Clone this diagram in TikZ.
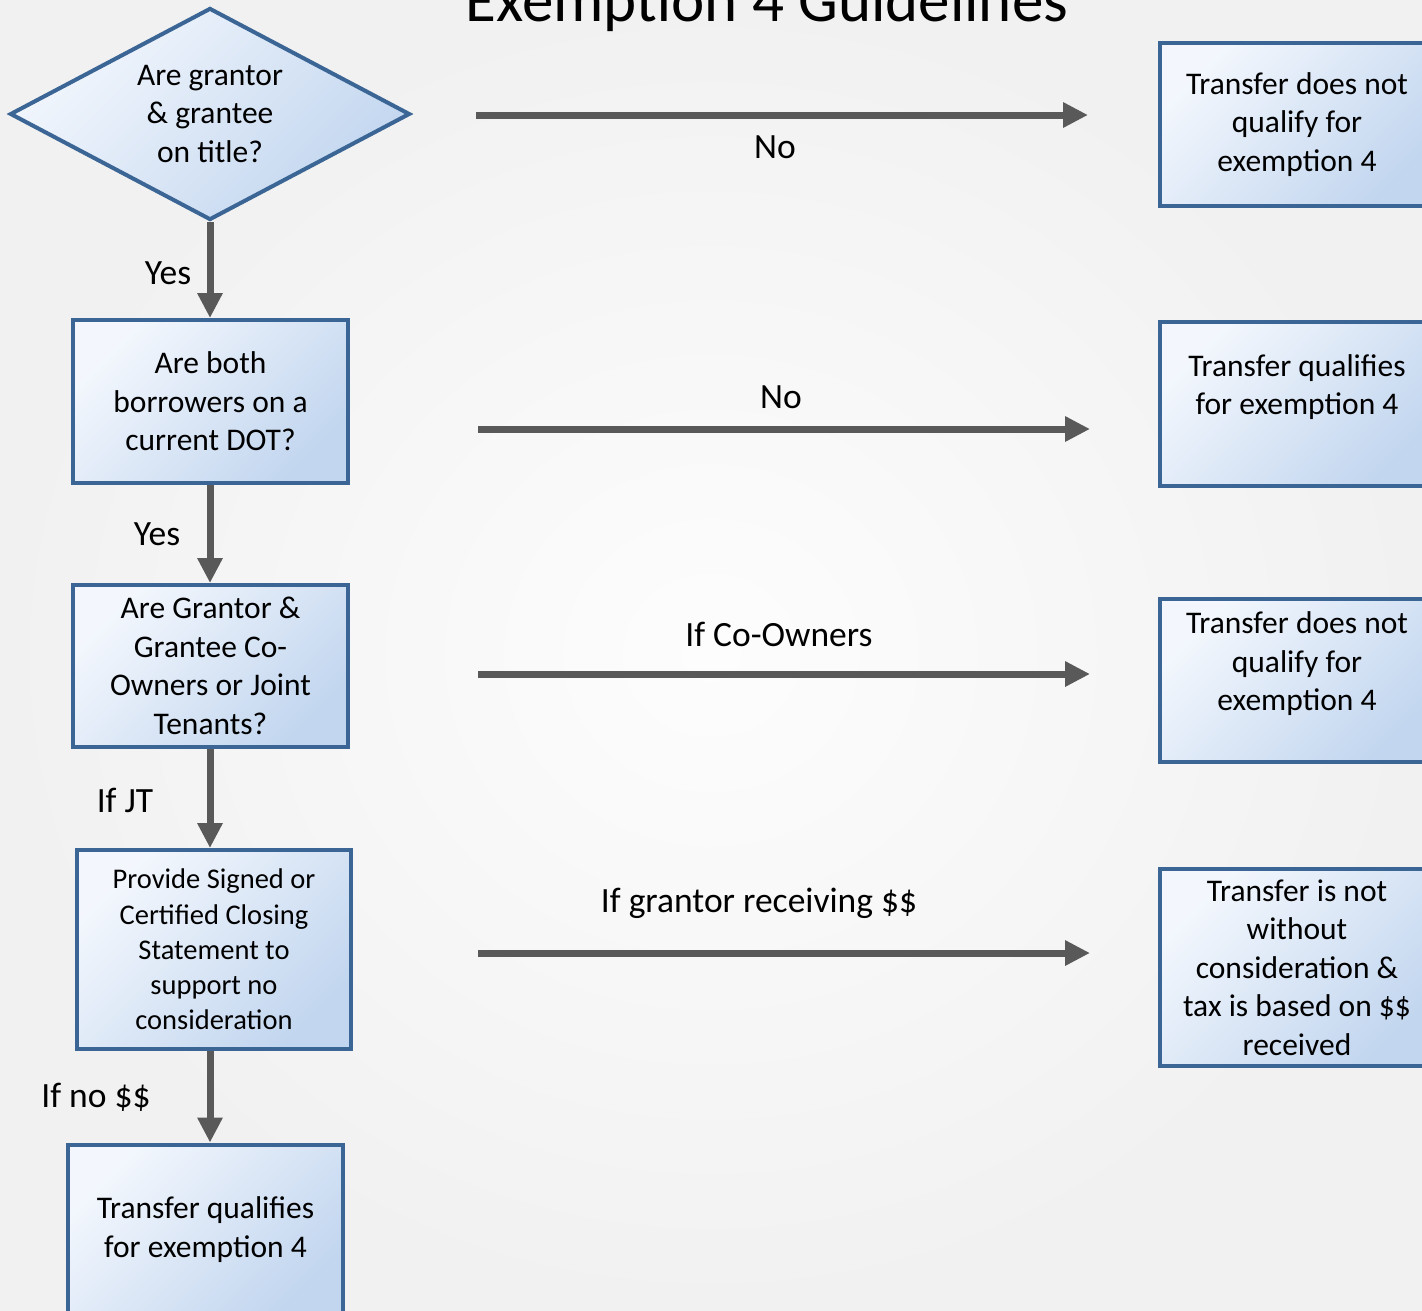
\documentclass[tikz,border=0pt]{standalone}
\usepackage{fontspec}
\setmainfont{Carlito}
\usetikzlibrary{arrows.meta}
\usetikzlibrary{shapes}

\definecolor{boxLine}{HTML}{3A6595}
\definecolor{boxLight}{HTML}{F3F7FD}
\definecolor{boxDark}{HTML}{C2D6EF}
\definecolor{arrowGray}{HTML}{595959}
\definecolor{bgInner}{HTML}{FDFDFD}
\definecolor{bgOuter}{HTML}{F1F1F1}

\begin{document}
\begin{tikzpicture}[x = 1pt, y = -1pt]
\tikzstyle{boxStyle} = [shape = rectangle, draw = boxLine, line width = 4pt, top color = boxLight, bottom color = boxDark, shading angle = 45, align = center, inner sep = 0pt, font = \fontsize{31.5}{38.5}\selectfont]
\tikzstyle{smallBoxStyle} = [boxStyle, font = \fontsize{28.5}{35.3}\selectfont]
\tikzstyle{diamondStyle} = [boxStyle, shape = diamond, aspect = 1.887, minimum width = 400pt, minimum height = 212pt]
\tikzstyle{arrowStyle} = [draw = arrowGray, line width = 7pt, -{Triangle[length = 25pt, width = 24pt]}]
\tikzstyle{labelStyle} = [inner sep = 0pt, font = \fontsize{35.5}{42}\selectfont]
\useasboundingbox (0,0) rectangle (1422,1310);
\shade[inner color = bgInner, outer color = bgOuter] (0,0) rectangle (1422,1310);
\clip (0,0) rectangle (1422,1310);
\node[anchor = base, font = \fontsize{63}{70}\selectfont] (title) at (767,21) {Exemption 4 Guidelines};
\node[diamondStyle] (v0) at (210,114) {Are grantor\\ \& grantee\\ on title?};
\node[boxStyle, minimum width = 275pt, minimum height = 163pt] (v1) at (210.5,401.5) {Are both\\ borrowers on a\\ current DOT?};
\node[boxStyle, minimum width = 275pt, minimum height = 162pt] (v2) at (210.5,666) {Are Grantor \&\\ Grantee Co-\\ Owners or Joint\\ Tenants?};
\node[smallBoxStyle, minimum width = 274pt, minimum height = 199pt] (v3) at (214,949.5) {Provide Signed or\\ Certified Closing\\ Statement to\\ support no\\ consideration};
\node[boxStyle, minimum width = 275pt, minimum height = 170pt] (v4) at (205.5,1229.5) {Transfer qualifies\\ for exemption 4};
\node[boxStyle, minimum width = 274pt, minimum height = 163pt] (v5) at (1297,124.5) {Transfer does not\\ qualify for\\ exemption 4};
\node[boxStyle, minimum width = 274pt, minimum height = 164pt] (v6) at (1297,404) {Transfer qualifies\\ for exemption 4\\ ~};
\node[boxStyle, minimum width = 274pt, minimum height = 163pt] (v7) at (1297,680.5) {Transfer does not\\ qualify for\\ exemption 4\\ ~};
\node[boxStyle, minimum width = 274pt, minimum height = 197pt] (v8) at (1297,967.5) {Transfer is not\\ without\\ consideration \&\\ tax is based on \$\$\\ received};
\coordinate (p0) at (476,115);
\coordinate (q0) at (1088,115);
\coordinate (p1) at (478,429);
\coordinate (q1) at (1090,429);
\coordinate (p2) at (478,674);
\coordinate (q2) at (1090,674);
\coordinate (p3) at (478,953);
\coordinate (q3) at (1090,953);
\draw[arrowStyle] (v0.south) -- (v0.south |- v1.north);
\draw[arrowStyle] (v0.south |- v1.south) -- (v0.south |- v2.north);
\draw[arrowStyle] (v0.south |- v2.south) -- (v0.south |- v3.north);
\draw[arrowStyle] (v0.south |- v3.south) -- (v0.south |- v4.north);
\draw[arrowStyle] (p0) -- (q0);
\draw[arrowStyle] (p1) -- (q1);
\draw[arrowStyle] (p2) -- (q2);
\draw[arrowStyle] (p3) -- (q3);
\node[labelStyle] (e0) at (775,147) {No};
\node[labelStyle] (e1) at (781,397) {No};
\node[labelStyle] (e2) at (779,634) {If Co-Owners};
\node[labelStyle] (e3) at (759,903) {If grantor receiving \$\$};
\node[labelStyle] (e4) at (168,273) {Yes};
\node[labelStyle] (e5) at (157,534) {Yes};
\node[labelStyle] (e6) at (125,800) {If JT};
\node[labelStyle] (e7) at (96,1097) {If no \$\$};
\end{tikzpicture}
\end{document}
